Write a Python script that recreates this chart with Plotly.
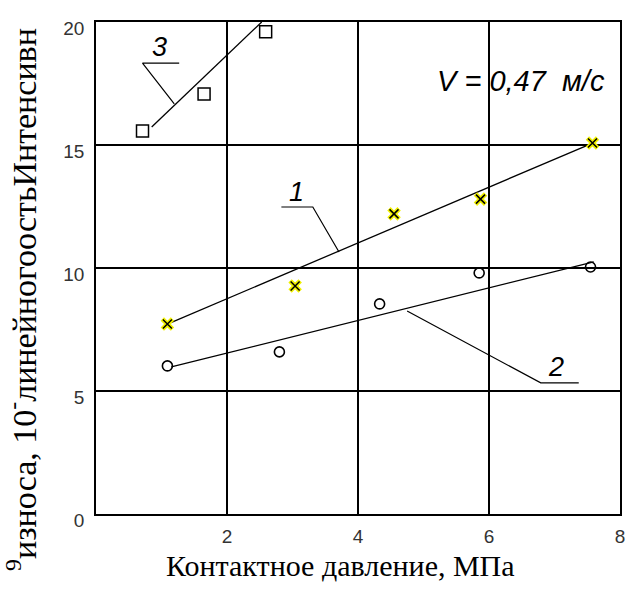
import plotly.graph_objects as go

# Series 1 (crosses)
s1_x = [1.09, 3.04, 4.55, 5.87, 7.58]
s1_y = [7.72, 9.27, 12.2, 12.8, 15.08]
s1_line_x = [1.09, 7.6]
s1_line_y = [7.72, 15.1]

# Series 2 (circles)
s2_x = [1.09, 2.80, 4.33, 5.85, 7.55]
s2_y = [6.02, 6.59, 8.54, 9.8, 10.04]
s2_line_x = [1.15, 7.6]
s2_line_y = [5.98, 10.25]

# Series 3 (squares)
s3_x = [0.71, 1.65, 2.59]
s3_y = [15.57, 17.07, 19.6]
s3_line_x = [0.85, 2.53]
s3_line_y = [15.73, 20.0]

# Curve labels with leader lines (data units)
labels = ["1", "2", "3"]
label_x = [3.06, 7.03, 0.97]
label_y = [13.09, 5.98, 18.98]
leader_x = [[2.83, 3.31, 3.71], [7.37, 6.79, 4.75], [1.27, 0.71, 1.195]]
leader_y = [[12.48, 12.48, 10.65], [5.33, 5.33, 8.25], [18.33, 18.33, 16.67]]

x_ticks = [2, 4, 6, 8]
y_ticks = [0, 5, 10, 15, 20]

x_title = "Контактное давление, МПа"
y_title = "<sup>9</sup>износа, 10<sup>-</sup>линейногоостьИнтенсивн"
speed_text = "<i>V = 0,47  м/с</i>"

fig = go.Figure()

line_style = dict(color="black", width=1.3)
for lx, ly in [(s1_line_x, s1_line_y), (s2_line_x, s2_line_y), (s3_line_x, s3_line_y)]:
    fig.add_trace(go.Scatter(x=lx, y=ly, mode="lines", line=line_style,
                             showlegend=False, hoverinfo="skip"))

for lx, ly in zip(leader_x, leader_y):
    fig.add_trace(go.Scatter(x=lx, y=ly, mode="lines", line=dict(color="black", width=1.2),
                             showlegend=False, hoverinfo="skip"))

fig.add_trace(go.Scatter(x=s1_x, y=s1_y, mode="markers", showlegend=False,
                         marker=dict(symbol="x", size=12, color="#f0f000",
                                     line=dict(width=0))))
fig.add_trace(go.Scatter(x=s1_x, y=s1_y, mode="markers", showlegend=False,
                         marker=dict(symbol="x-thin-open", size=9, color="black",
                                     line=dict(color="black", width=1.5))))
fig.add_trace(go.Scatter(x=s2_x, y=s2_y, mode="markers", showlegend=False,
                         marker=dict(symbol="circle-open", size=10, color="black",
                                     line=dict(color="black", width=1.6))))
fig.add_trace(go.Scatter(x=s3_x, y=s3_y, mode="markers", showlegend=False,
                         marker=dict(symbol="square-open", size=12, color="black",
                                     line=dict(color="black", width=1.5))))

for t, x, y in zip(labels, label_x, label_y):
    fig.add_annotation(x=x, y=y, text="<i>" + t + "</i>", showarrow=False,
                       font=dict(family="Liberation Sans", size=27, color="black"))

fig.add_annotation(x=0.975, y=0.881, xref="paper", yref="paper", xanchor="right",
                   yanchor="middle", text=speed_text, showarrow=False,
                   font=dict(family="Liberation Sans", size=29, color="black"))

# axis titles as annotations (positioned like the reference)
fig.add_annotation(x=(343 - 96) / 529, y=-(566 - 514) / 492.5, xref="paper", yref="paper",
                   xanchor="center", yanchor="middle", text=x_title, showarrow=False,
                   font=dict(family="Liberation Serif", size=30, color="black"))
fig.add_annotation(x=-(96 - 21) / 529, y=(514 - 299) / 492.5, xref="paper", yref="paper",
                   xanchor="center", yanchor="middle", textangle=-90, text=y_title,
                   showarrow=False,
                   font=dict(family="Liberation Serif", size=34, color="black"))

axis_common = dict(showline=True, linecolor="black", linewidth=1.5, mirror=True,
                   showgrid=True, gridcolor="black", gridwidth=1.5, zeroline=False,
                   ticks="", tickfont=dict(family="Liberation Sans Narrow, Liberation Sans",
                                           size=19, color="#333"))

fig.update_layout(
    width=630, height=589,
    margin=dict(l=96, r=5, t=22, b=75),
    plot_bgcolor="white", paper_bgcolor="white",
    xaxis=dict(range=[0, 8], tickvals=x_ticks, ticklabelstandoff=4, **axis_common),
    yaxis=dict(range=[0, 20], tickvals=y_ticks, ticklabelstandoff=6, ticklabelshift=6,
               **axis_common),
)

fig.write_html("out.html")
